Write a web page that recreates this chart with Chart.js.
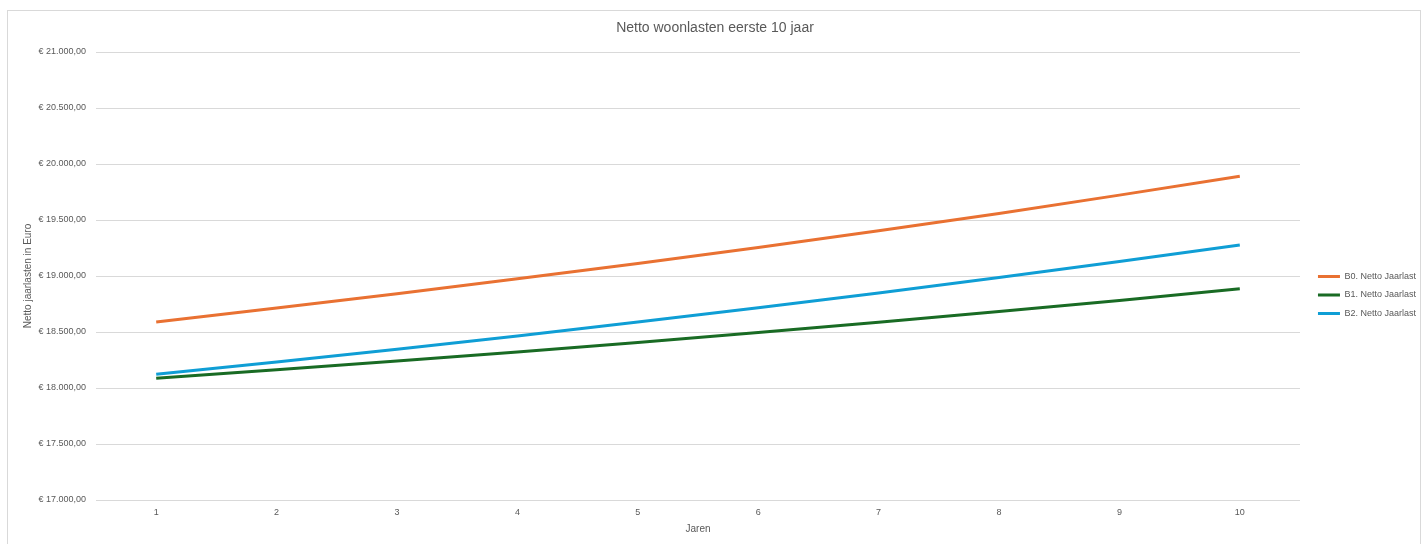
<!DOCTYPE html>
<html lang="nl">
<head>
<meta charset="utf-8">
<title>Netto woonlasten eerste 10 jaar</title>
<script src="https://cdn.jsdelivr.net/npm/chart.js@4.4.1/dist/chart.umd.min.js"></script>
<style>
  html, body { margin: 0; padding: 0; background: #ffffff; }
  #wrap { position: relative; width: 1427px; height: 544px; }
</style>
</head>
<body>
<div id="wrap"><canvas id="chart"></canvas></div>
<script>
// Jaren 1 t/m 10
const jaren = ['1', '2', '3', '4', '5', '6', '7', '8', '9', '10'];

// Netto jaarlast per variant (in euro)
const b0NettoJaarlast = [18589, 18714, 18842, 18975, 19112, 19255, 19404, 19559, 19722, 19890];
const b1NettoJaarlast = [18087, 18162, 18240, 18322, 18407, 18495, 18587, 18682, 18782, 18887];
const b2NettoJaarlast = [18122, 18232, 18345, 18465, 18589, 18717, 18849, 18987, 19130, 19277];

const serieNamen = ['B0. Netto Jaarlast', 'B1. Netto Jaarlast', 'B2. Netto Jaarlast'];

// Y-as bereik en stap
const yMin = 17000;
const yMax = 21000;
const yStap = 500;

const tekstKleur = '#595959';
const rasterKleur = '#d9d9d9';
const fontFamilie = '"Liberation Sans", Arial, sans-serif';

function euro(v) {
  const [geheel, dec] = Math.abs(v).toFixed(2).split('.');
  const metPunten = geheel.replace(/\B(?=(\d{3})+(?!\d))/g, '.');
  return '€ ' + (v < 0 ? '-' : '') + metPunten + ',' + dec;
}

// Lichtgrijze rand rond het hele diagram
const randPlugin = {
  id: 'rand',
  beforeDraw(chart) {
    const ctx = chart.ctx;
    ctx.save();
    ctx.strokeStyle = rasterKleur;
    ctx.lineWidth = 1;
    ctx.strokeRect(7.5, 10.5, 1413, 600);
    ctx.restore();
  }
};

function lijn(label, data, kleur) {
  return {
    label: label,
    data: data,
    borderColor: kleur,
    backgroundColor: kleur,
    borderWidth: 3,
    pointRadius: 0,
    pointHoverRadius: 0,
    tension: 0,
    fill: false
  };
}

new Chart(document.getElementById('chart'), {
  type: 'line',
  data: {
    labels: jaren,
    datasets: [
      lijn(serieNamen[0], b0NettoJaarlast, '#E97132'),
      lijn(serieNamen[1], b1NettoJaarlast, '#196B24'),
      lijn(serieNamen[2], b2NettoJaarlast, '#0F9ED5')
    ]
  },
  options: {
    responsive: true,
    maintainAspectRatio: false,
    animation: false,
    layout: { padding: { left: 4, right: 1, top: 0, bottom: 0 } },
    plugins: {
      title: {
        display: true,
        text: 'Netto woonlasten eerste 10 jaar',
        color: tekstKleur,
        font: { family: fontFamilie, size: 14, weight: 'normal' },
        padding: { top: 20.2, bottom: 15 }
      },
      legend: {
        display: true,
        position: 'right',
        align: 'center',
        title: { display: true, text: '', padding: { top: 0, bottom: 35 }, font: { size: 9 } },
        labels: {
          boxWidth: 22,
          boxHeight: 3,
          padding: 9.5,
          color: tekstKleur,
          font: { family: fontFamilie, size: 9 },
          // legenda toont een effen lijnstuk zonder omranding
          generateLabels(chart) {
            return Chart.defaults.plugins.legend.labels.generateLabels(chart)
              .map(item => Object.assign(item, { lineWidth: 0 }));
          }
        }
      },
      tooltip: { enabled: false }
    },
    scales: {
      x: {
        type: 'category',
        offset: true,
        grid: { display: false, drawTicks: false },
        border: { display: false },
        ticks: {
          color: tekstKleur,
          font: { family: fontFamilie, size: 9 },
          padding: 7,
          maxRotation: 0
        },
        title: {
          display: true,
          text: 'Jaren',
          color: tekstKleur,
          font: { family: fontFamilie, size: 10 },
          padding: { top: 0, bottom: 8.5 }
        },
        afterFit(scale) { scale.height = 44; }
      },
      y: {
        type: 'linear',
        position: 'left',
        min: yMin,
        max: yMax,
        grid: { color: rasterKleur, lineWidth: 1, drawTicks: false },
        border: { display: false },
        ticks: {
          stepSize: yStap,
          color: tekstKleur,
          font: { family: fontFamilie, size: 9 },
          padding: 10,
          callback: (v) => euro(v)
        },
        title: {
          display: true,
          text: 'Netto jaarlasten in Euro',
          color: tekstKleur,
          font: { family: fontFamilie, size: 10 },
          padding: { top: 18, bottom: 0 }
        },
        afterFit(scale) { scale.width = 92; }
      },
      // lege ruimte tussen tekengebied en legenda
      ruimte: {
        type: 'linear',
        position: 'right',
        display: true,
        grid: { display: false, drawTicks: false },
        border: { display: false },
        ticks: { display: false },
        afterFit(scale) {
          const lw = scale.chart.legend ? scale.chart.legend.width : 0;
          scale.width = Math.max(0, 1426 - 1300 - lw);
        }
      }
    }
  },
  plugins: [randPlugin]
});
</script>
</body>
</html>
